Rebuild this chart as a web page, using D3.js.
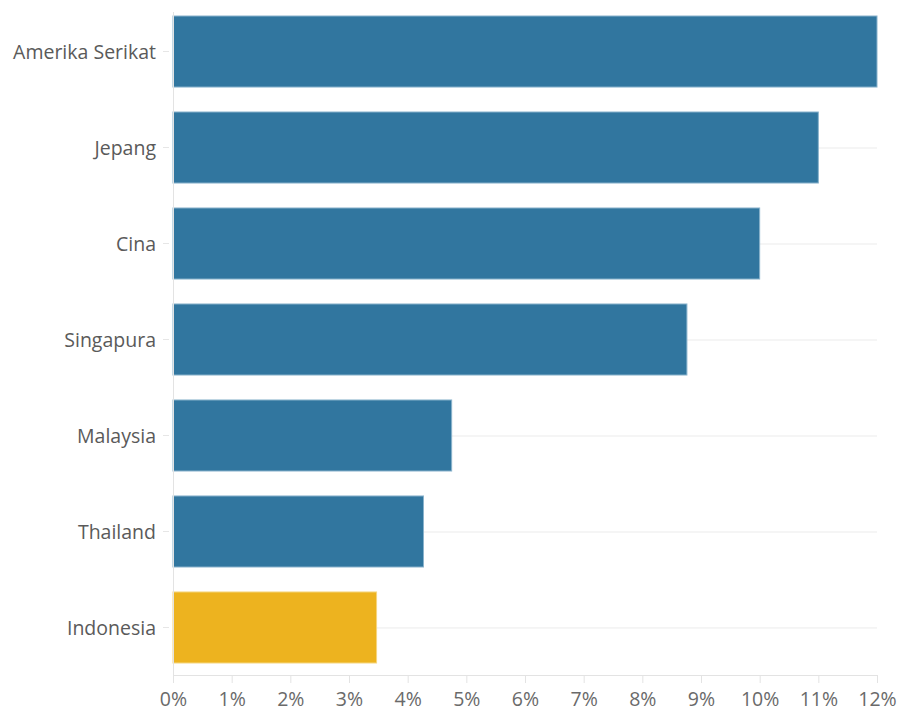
<!DOCTYPE html>
<html>
<head>
<meta charset="utf-8">
<script src="https://cdn.jsdelivr.net/npm/d3@7"></script>
<style>
  body { margin: 0; background: #fff; }
  svg { display: block; }
</style>
</head>
<body>
<svg id="chart" width="900" height="711"></svg>
<script>
// Country shares (%)
const countries = ["Amerika Serikat", "Jepang", "Cina", "Singapura", "Malaysia", "Thailand", "Indonesia"];
const shares = [12, 11, 10, 8.76, 4.75, 4.27, 3.47];
const highlight = ["Indonesia"];
const xTicks = [0, 1, 2, 3, 4, 5, 6, 7, 8, 9, 10, 11, 12];

(function () {
  const svg = d3.select("#chart");
  const font = "'Open Sans', sans-serif";
  const mLeft = 173, mRight = 877, mTop = 4, mBottom = 675;

  const x = d3.scaleLinear().domain([0, 12]).range([mLeft, mRight]);
  const y = d3.scaleBand().domain(countries).range([mTop, mBottom])
    .paddingInner(0.26).paddingOuter(0.125);

  // horizontal grid lines through each band
  svg.append("g").selectAll("line").data(countries).join("line")
    .attr("x1", mLeft).attr("x2", mRight)
    .attr("y1", d => y(d) + y.bandwidth() / 2 + 0.5)
    .attr("y2", d => y(d) + y.bandwidth() / 2 + 0.5)
    .attr("stroke", "#ebebeb").attr("stroke-width", 1);

  // bars
  svg.append("g").selectAll("rect").data(countries).join("rect")
    .attr("x", x(0))
    .attr("y", d => y(d))
    .attr("width", (d, i) => x(shares[i]) - x(0))
    .attr("height", y.bandwidth())
    .attr("fill", d => highlight.includes(d) ? "#edb31f" : "#31769f")
    .attr("stroke", d => highlight.includes(d) ? "#f5d680" : "#8ab3cc")
    .attr("stroke-width", 1);

  // y axis
  const yAxis = svg.append("g").attr("transform", `translate(${mLeft},0)`)
    .call(d3.axisLeft(y).tickSize(9).tickPadding(8));
  yAxis.attr("font-family", font).attr("font-size", 19.5);
  yAxis.select(".domain").remove();
  yAxis.selectAll(".tick line").attr("stroke", "#e6e6e6").attr("x2", -4).attr("x1", -10);
  yAxis.selectAll(".tick text").attr("fill", "#5a5a5a").attr("dy", "0.4em");
  svg.append("line")
    .attr("x1", mLeft + 0.5).attr("x2", mLeft + 0.5)
    .attr("y1", 12).attr("y2", mBottom)
    .attr("stroke", "#e3e3e3");

  // x axis
  const xAxis = svg.append("g").attr("transform", `translate(0,${mBottom})`)
    .call(d3.axisBottom(x).tickValues(xTicks).tickFormat(d => d + "%").tickSize(8).tickPadding(9));
  xAxis.attr("font-family", font).attr("font-size", 19.5);
  xAxis.select(".domain").attr("stroke", "#e3e3e3").attr("d", `M${mLeft},0.5H${mRight}`);
  xAxis.selectAll(".tick line").attr("stroke", "#e3e3e3");
  xAxis.selectAll(".tick text").attr("fill", "#6a6a6a");
})();
</script>
</body>
</html>
